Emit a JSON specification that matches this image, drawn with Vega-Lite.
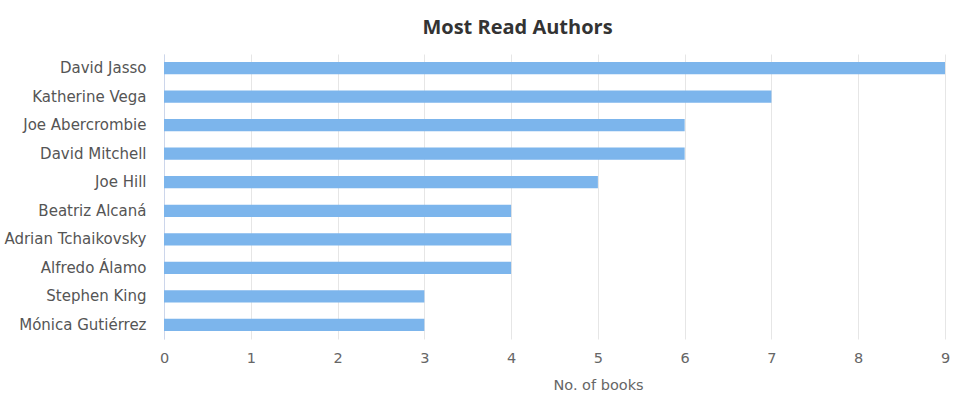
{
  "$schema": "https://vega.github.io/schema/vega-lite/v6.json",
  "autosize": {"type": "none"},
  "padding": {"left": 164, "top": 54, "right": 23, "bottom": 58},
  "width": 781,
  "height": 285,
  "background": "white",
  "title": {
    "text": "Most Read Authors",
    "font": "Open Sans",
    "fontSize": 20,
    "fontWeight": "bold",
    "color": "#333333",
    "anchor": "middle",
    "frame": "group",
    "dx": -37,
    "offset": 16
  },
  "data": {
    "values": [
      {"author": "David Jasso", "books": 9},
      {"author": "Katherine Vega", "books": 7},
      {"author": "Joe Abercrombie", "books": 6},
      {"author": "David Mitchell", "books": 6},
      {"author": "Joe Hill", "books": 5},
      {"author": "Beatriz Alcaná", "books": 4},
      {"author": "Adrian Tchaikovsky", "books": 4},
      {"author": "Alfredo Álamo", "books": 4},
      {"author": "Stephen King", "books": 3},
      {"author": "Mónica Gutiérrez", "books": 3}
    ]
  },
  "mark": {"type": "bar", "color": "#7cb5ec"},
  "encoding": {
    "y": {
      "field": "author",
      "type": "nominal",
      "sort": null,
      "scale": {"paddingInner": 0.57, "paddingOuter": 0.28},
      "axis": {
        "title": null,
        "ticks": false,
        "domain": true,
        "domainColor": "#ccd6eb",
        "labelPadding": 18,
        "labelFont": "DejaVu Sans",
        "labelFontSize": 15,
        "labelColor": "#555555"
      }
    },
    "x": {
      "field": "books",
      "type": "quantitative",
      "scale": {"domain": [0, 9], "nice": false},
      "axis": {
        "title": "No. of books",
        "values": [0, 1, 2, 3, 4, 5, 6, 7, 8, 9],
        "format": "d",
        "ticks": false,
        "domain": false,
        "grid": true,
        "gridColor": "#e6e6e6",
        "labelFlush": false,
        "labelPadding": 12,
        "labelFont": "DejaVu Sans",
        "labelFontSize": 14.5,
        "labelColor": "#666666",
        "titleFont": "DejaVu Sans",
        "titleFontSize": 14.5,
        "titleFontWeight": "normal",
        "titleColor": "#666666",
        "titleX": 434,
        "titlePadding": 14
      }
    }
  },
  "config": {"view": {"stroke": null}}
}
